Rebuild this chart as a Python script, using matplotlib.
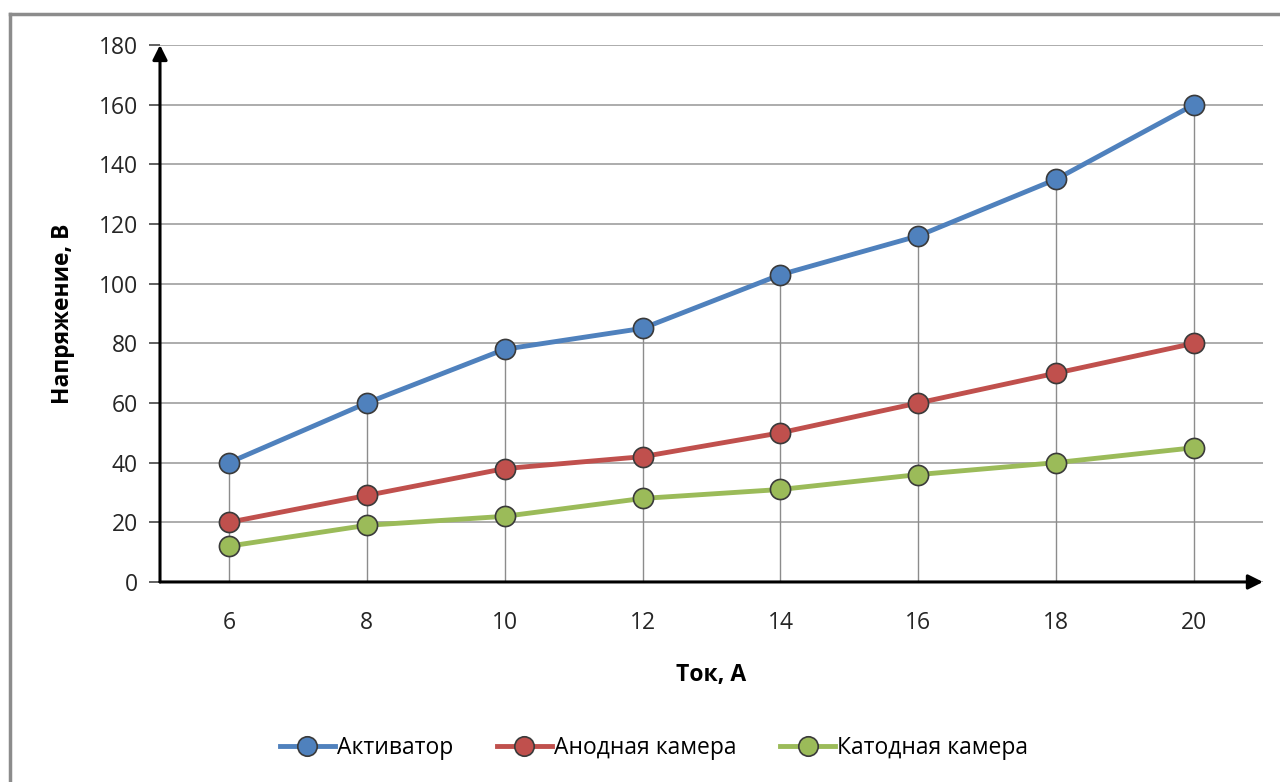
import matplotlib.pyplot as plt
from matplotlib.lines import Line2D

plt.rcParams['font.family'] = ['Open Sans', 'DejaVu Sans']

# Ток, А
current = [6, 8, 10, 12, 14, 16, 18, 20]
# Напряжение, В
activator = [40, 60, 78, 85, 103, 116, 135, 160]
anode = [20, 29, 38, 42, 50, 60, 70, 80]
cathode = [12, 19, 22, 28, 31, 36, 40, 45]

series = [
    ('Активатор', activator, '#4F81BD'),
    ('Анодная камера', anode, '#C0504D'),
    ('Катодная камера', cathode, '#9BBB59'),
]

fig = plt.figure(figsize=(12.8, 7.82), dpi=100)
ax = fig.add_axes([0.125, 0.2558, 0.8617, 0.6867])

ax.set_xlim(5, 21)
ax.set_ylim(0, 180)
ax.set_yticks(range(0, 181, 20))
ax.set_xticks(current)

# горизонтальная сетка
ax.yaxis.grid(True, color='#A6A6A6', linewidth=1.3)
ax.set_axisbelow(True)

# вертикальные линии проекции от верхней точки до оси
tops = [max(v) for v in zip(activator, anode, cathode)]
ax.vlines(current, 0, tops, color='#8C8C8C', linewidth=1.0, zorder=1)

for name, vals, col in series:
    ax.plot(current, vals, color=col, linewidth=3.5, marker='o', markersize=14.5,
            markerfacecolor=col, markeredgecolor='#3A3A3A', markeredgewidth=1.2,
            label=name, zorder=3)

for s in ax.spines.values():
    s.set_visible(False)

# оси со стрелками
arrow = dict(arrowstyle='-|>', color='black', lw=2.2, mutation_scale=22,
             shrinkA=0, shrinkB=0)
ax.annotate('', xy=(21, 0), xytext=(5, 0), arrowprops=arrow,
            annotation_clip=False, zorder=4)
ax.annotate('', xy=(5, 180), xytext=(5, 0), arrowprops=arrow,
            annotation_clip=False, zorder=4)

ax.tick_params(axis='y', length=8, width=1.3, color='#555555', labelsize=16.5,
               pad=8, labelcolor='#262626')
ax.tick_params(axis='x', length=0, labelsize=16.5, pad=21, labelcolor='#262626')

ax.set_xlabel('Ток, А', fontsize=16.5, fontweight='bold', va='center')
ax.set_ylabel('Напряжение, В', fontsize=16.5, fontweight='bold', va='center')
ax.xaxis.set_label_coords(0.5, -0.173)
ax.yaxis.set_label_coords(-0.088, 0.5)

handles = [Line2D([], [], color=col, linewidth=3.5, marker='o', markersize=14,
                  markerfacecolor=col, markeredgecolor='#3A3A3A',
                  markeredgewidth=1.2) for _, _, col in series]
fig.legend(handles, [n for n, _, _ in series], loc='center',
           bbox_to_anchor=(0.511, 0.043), ncol=3, frameon=False, fontsize=16.5,
           handlelength=2.4, handletextpad=0.1, columnspacing=1.9)

# рамка области диаграммы
fig.add_artist(Line2D([0.0078, 0.0078], [0, 0.982], color='#8C8C8C',
                      linewidth=2.5, transform=fig.transFigure))
fig.add_artist(Line2D([0.0078, 1.0], [0.982, 0.982], color='#8C8C8C',
                      linewidth=2.5, transform=fig.transFigure))

fig.savefig('out.png', dpi=100, facecolor='white')
